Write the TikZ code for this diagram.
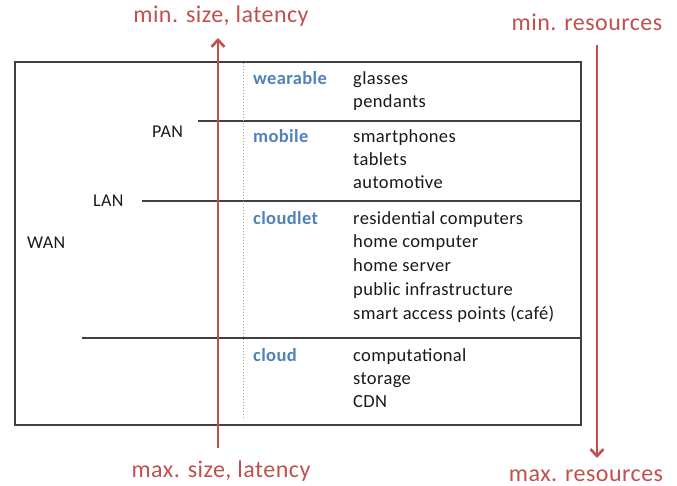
\documentclass[tikz,border=0pt]{standalone}
\usepackage{fontspec}
\setmainfont{Carlito}
\newfontfamily\diagfont[LetterSpace=2]{Carlito}
\usetikzlibrary{arrows.meta}
\definecolor{axisred}{HTML}{C0504D}
\definecolor{tierblue}{HTML}{4F81BD}
\definecolor{rulegray}{HTML}{404040}
\tikzset{
  item/.style={anchor=base west, inner sep=0pt, font=\diagfont\fontsize{18.5}{20}\selectfont, text=black!90},
  tier/.style={anchor=base west, inner sep=0pt, font=\diagfont\fontsize{18.5}{20}\selectfont\bfseries, text=tierblue},
  net/.style={anchor=base west, inner sep=0pt, font=\diagfont\fontsize{18}{20}\selectfont, text=black!90},
  axislabel/.style={anchor=base, inner sep=0pt, font=\diagfont\fontsize{24}{26}\selectfont, text=axisred},
  rule/.style={draw=rulegray, line width=1.3pt},
  axis/.style={draw=axisred, line width=2.6pt, -{Straight Barb[length=7pt,width=13pt]}},
}
\begin{document}
\begin{tikzpicture}[x=1pt,y=-1pt]
\useasboundingbox (0,0) rectangle (677,486);

% outer frame
\draw[rule] (15,62) rectangle (581,425);
% tier separators
\draw[rule] (198,121) -- (581,121);
\draw[rule] (142,201) -- (581,201);
\draw[rule] (82,338) -- (581,338);
% dotted guide between axis and tier names
\draw[gray!70, line width=1pt, dotted] (243,63) -- (243,420);

% network scopes
\node[net] (pan) at (152,138) {PAN};
\node[net] (lan) at (93,207) {LAN};
\node[net] (wan) at (27,249) {WAN};

% tier names
\node[tier] (wearable) at (253,85) {wearable};
\node[tier] (mobile)   at (253,143) {mobile};
\node[tier] (cloudlet) at (253,225) {cloudlet};
\node[tier] (cloud)    at (253,361) {cloud};

% examples per tier
\node[item] (i1)  at (353,85)  {glasses};
\node[item] (i2)  at (353,108) {pendants};
\node[item] (i3)  at (353,143) {smartphones};
\node[item] (i4)  at (353,166) {tablets};
\node[item] (i5)  at (353,189) {automotive};
\node[item] (i6)  at (353,225) {residential computers};
\node[item] (i7)  at (353,248) {home computer};
\node[item] (i8)  at (353,272) {home server};
\node[item] (i9)  at (353,295) {public infrastructure};
\node[item] (i10) at (353,319) {smart access points (café)};
\node[item] (i11) at (353,361) {computational};
\node[item] (i12) at (353,384) {storage};
\node[item] (i13) at (353,407) {CDN};

% axis labels
\node[axislabel] (minsize) at (221,23)  {min. size, latency};
\node[axislabel] (maxsize) at (221,477) {max. size, latency};
\node[axislabel] (minres)  at (587,31)  {min. resources};
\node[axislabel] (maxres)  at (586,481) {max. resources};

% axes
\coordinate (sizelow)  at (218,448);
\coordinate (sizehigh) at (218,38);
\coordinate (reslow)   at (597,45);
\coordinate (reshigh)  at (597,458);
\draw[axis] (sizelow) -- (sizehigh);
\draw[axis] (reslow) -- (reshigh);
\end{tikzpicture}
\end{document}
